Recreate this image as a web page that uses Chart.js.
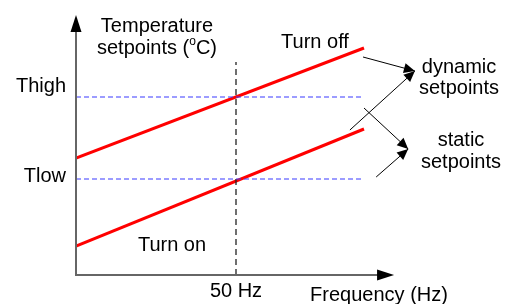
<!DOCTYPE html>
<html>
<head>
<meta charset="utf-8">
<script src="https://cdn.jsdelivr.net/npm/chart.js@4"></script>
<style>
  body { margin: 0; background: #fff; }
  canvas { display: block; }
</style>
</head>
<body>
<canvas id="chart" width="508" height="304"></canvas>
<script>
// frequency in Hz, temperature in arbitrary units
const freqRange = [0, 90];
const turnOffLine = [11.7, 22.7];   // dynamic "turn off" setpoint
const turnOnLine = [2.9, 14.6];     // dynamic "turn on" setpoint
const tHigh = 17.8;
const tLow = 9.6;
const nominalFreq = 50;
const nominalTop = 21.3;

// arrows pointing at the legend labels [from, to]
const dynamicArrows = [
  [[89.7, 21.8], [105.9, 20.4]],
  [[85.6, 14.5], [105.9, 20.4]],
];
const staticArrows = [
  [[90, 16.7], [103.8, 12.6]],
  [[93.8, 9.8], [103.8, 12.6]],
];

const FAMILY = "'Liberation Sans', Arial, sans-serif";
const FONT = "20px " + FAMILY;

function line(pts, color, width, dash) {
  return {
    data: pts.map(([x, y]) => ({ x, y })),
    showLine: true,
    borderColor: color,
    backgroundColor: color,
    borderWidth: width,
    borderDash: dash || [],
    pointRadius: 0,
    fill: false,
  };
}

const datasets = [
  line([[0, tHigh], [freqRange[1], tHigh]], "#3b3bff", 1.1, [5, 3]),
  line([[0, tLow], [freqRange[1], tLow]], "#3b3bff", 1.1, [5, 3]),
  line([[nominalFreq, 0], [nominalFreq, nominalTop]], "#222", 1.3, [6, 4]),
  line([[freqRange[0], turnOffLine[0]], [freqRange[1], turnOffLine[1]]], "#ff0000", 3),
  line([[freqRange[0], turnOnLine[0]], [freqRange[1], turnOnLine[1]]], "#ff0000", 3),
];
[...dynamicArrows, ...staticArrows].forEach((a) => {
  const ds = line(a, "#000", 1);
  ds.arrow = true;
  datasets.push(ds);
});

function arrowHead(ctx, x0, y0, x1, y1, len, half) {
  const ang = Math.atan2(y1 - y0, x1 - x0);
  ctx.beginPath();
  ctx.moveTo(x1, y1);
  ctx.lineTo(x1 - len * Math.cos(ang) + half * Math.sin(ang), y1 - len * Math.sin(ang) - half * Math.cos(ang));
  ctx.lineTo(x1 - len * Math.cos(ang) - half * Math.sin(ang), y1 - len * Math.sin(ang) + half * Math.cos(ang));
  ctx.closePath();
  ctx.fill();
}

const decor = {
  id: "decor",
  afterDatasetsDraw(chart) {
    const { ctx, scales } = chart;
    const px = (v) => scales.x.getPixelForValue(v);
    const py = (v) => scales.y.getPixelForValue(v);
    ctx.save();

    // axes with arrow heads
    ctx.strokeStyle = "#666";
    ctx.fillStyle = "#000";
    ctx.lineWidth = 2;
    ctx.beginPath();
    ctx.moveTo(px(0), py(0));
    ctx.lineTo(px(0), py(25));
    ctx.moveTo(px(0) - 1, py(0));
    ctx.lineTo(px(95), py(0));
    ctx.stroke();
    arrowHead(ctx, px(0), py(0), px(0), py(26), 17, 5.5);
    arrowHead(ctx, px(0), py(0), px(99.4), py(0), 17, 5.5);

    // small arrow heads on the pointer lines
    chart.data.datasets.forEach((ds) => {
      if (!ds.arrow) return;
      const [a, b] = ds.data;
      arrowHead(ctx, px(a.x), py(a.y), px(b.x), py(b.y), 11, 5);
    });

    // texts
    ctx.font = FONT;
    ctx.fillStyle = "#000";
    ctx.textBaseline = "middle";
    ctx.textAlign = "center";
    ctx.fillText("Temperature", 157, 26);
    // "setpoints (°C)" with a small raised o
    ctx.textAlign = "left";
    const a = "setpoints (", b = "C)";
    ctx.font = "12px " + FAMILY;
    const wo = ctx.measureText("o").width;
    ctx.font = FONT;
    const total = ctx.measureText(a).width + wo + ctx.measureText(b).width;
    let x = 157 - total / 2;
    ctx.fillText(a, x, 48);
    x += ctx.measureText(a).width;
    ctx.font = "12px " + FAMILY;
    ctx.fillText("o", x, 42);
    x += wo;
    ctx.font = FONT;
    ctx.fillText(b, x, 48);

    ctx.textAlign = "right";
    ctx.fillText("Thigh", 66, 86);
    ctx.fillText("Tlow", 66, 176);
    ctx.textAlign = "center";
    ctx.fillText("Turn on", 172, 245);
    ctx.fillText("Turn off", 315, 42);
    ctx.fillText("50 Hz", px(nominalFreq), 291);
    ctx.fillText("Frequency (Hz)", 379, 295);
    ctx.fillText("dynamic", 459, 67);
    ctx.fillText("setpoints", 459, 88);
    ctx.fillText("static", 461, 140);
    ctx.fillText("setpoints", 461, 162);
    ctx.restore();
  },
};

new Chart(document.getElementById("chart"), {
  type: "scatter",
  data: { datasets },
  options: {
    responsive: false,
    animation: false,
    layout: { padding: { left: 76, top: 0, right: 0, bottom: 29 } },
    plugins: { legend: { display: false }, tooltip: { enabled: false } },
    scales: {
      x: { type: "linear", min: 0, max: 135, display: false },
      y: { type: "linear", min: 0, max: 27.5, display: false },
    },
  },
  plugins: [decor],
});
</script>
</body>
</html>
